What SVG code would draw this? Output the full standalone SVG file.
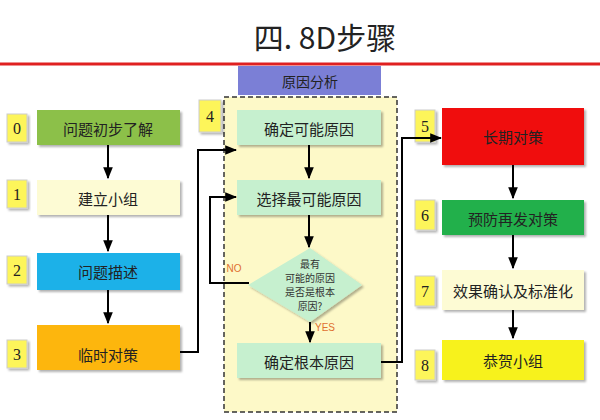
<svg xmlns="http://www.w3.org/2000/svg" width="600" height="420" viewBox="0 0 600 420">
<defs>
<marker id="a" viewBox="0 0 10 10" refX="9" refY="5" markerWidth="6" markerHeight="6" orient="auto"><path d="M0,1 L10,5 L0,9 z" fill="#000"/></marker>
<filter id="s" x="-10%" y="-10%" width="130%" height="140%"><feDropShadow dx="2" dy="2" stdDeviation="1.2" flood-color="#000" flood-opacity="0.3"/></filter>
</defs>
<style>
text{font-family:"Noto Sans CJK SC","Liberation Serif",serif;text-anchor:middle;dominant-baseline:central}
.t{font-size:15px;fill:#222}
.n{font-size:16px;fill:#222;font-family:"Liberation Serif",serif}
.lb{fill:#fdf55a;stroke:#ccc;stroke-width:1;filter:url(#s)}
.bx{filter:url(#s)}
.in{fill:#c6f0cf;filter:url(#s)}
.d{font-size:10px;fill:#333}
.c{fill:none;stroke:#000;stroke-width:2;marker-end:url(#a)}
</style>
<rect width="600" height="420" fill="#fff"/>
<text x="325" y="36" style="font-size:30px;font-family:'Noto Sans CJK SC','Liberation Sans',sans-serif;fill:#222">四. 8D步骤</text>
<line x1="0" y1="64" x2="600" y2="64" stroke="#e02020" stroke-width="3"/>
<g id="cause"><rect x="238" y="66" width="143" height="29" fill="#7b7fd6"/><text class="t" x="310" y="81" style="font-size:14px">原因分析</text></g>
<rect x="224" y="97" width="173" height="315" fill="#fdf9c8" stroke="#333" stroke-width="1.5" stroke-dasharray="5,3"/>
<g id="n0"><rect class="lb" x="7" y="114" width="20" height="28"/><text class="n" x="17" y="128">0</text><rect class="bx" x="37" y="110" width="143" height="35" fill="#8cc04a"/><text class="t" x="108" y="128">问题初步了解</text></g>
<g id="n1"><rect class="lb" x="7" y="180" width="20" height="28"/><text class="n" x="17" y="194">1</text><rect class="bx" x="37" y="180" width="143" height="35" fill="#fdfbd4"/><text class="t" x="108" y="198">建立小组</text></g>
<g id="n2"><rect class="lb" x="7" y="256" width="20" height="28"/><text class="n" x="17" y="270">2</text><rect class="bx" x="37" y="253" width="143" height="37" fill="#1fb1e8"/><text class="t" x="108" y="271">问题描述</text></g>
<g id="n3"><rect class="lb" x="7" y="340" width="20" height="28"/><text class="n" x="17" y="354">3</text><rect class="bx" x="37" y="325" width="143" height="45" fill="#fdb60d"/><text class="t" x="108" y="354">临时对策</text></g>
<g id="n4"><rect class="lb" x="199" y="100" width="22" height="32"/><text class="n" x="210" y="116">4</text></g>
<g id="a1"><rect class="in" x="237" y="110" width="144" height="35"/><text class="t" x="309" y="128">确定可能原因</text></g>
<g id="a2"><rect class="in" x="237" y="180" width="144" height="35"/><text class="t" x="309" y="198">选择最可能原因</text></g>
<g id="a3"><polygon points="310,248 362,285 310,322 248,285" fill="#c6f0cf" filter="url(#s)"/>
<text class="d" x="310" y="263">最有</text><text class="d" x="310" y="277">可能的原因</text><text class="d" x="310" y="291">是否是根本</text><text class="d" x="310" y="305">原因?</text></g>
<g id="a4"><rect class="in" x="237" y="343" width="144" height="35"/><text class="t" x="309" y="361">确定根本原因</text></g>
<g id="n5"><rect class="lb" x="415" y="110" width="20" height="32"/><text class="n" x="425" y="126">5</text><rect class="bx" x="442" y="108" width="142" height="57" fill="#f01010"/><text class="t" x="513" y="136">长期对策</text></g>
<g id="n6"><rect class="lb" x="415" y="200" width="20" height="30"/><text class="n" x="425" y="215">6</text><rect class="bx" x="442" y="200" width="142" height="35" fill="#22b04b"/><text class="t" x="513" y="218">预防再发对策</text></g>
<g id="n7"><rect class="lb" x="415" y="276" width="20" height="30"/><text class="n" x="425" y="291">7</text><rect class="bx" x="442" y="270" width="142" height="40" fill="#fdfbd4"/><text class="t" x="513" y="290">效果确认及标准化</text></g>
<g id="n8"><rect class="lb" x="415" y="350" width="20" height="30"/><text class="n" x="425" y="365">8</text><rect class="bx" x="442" y="340" width="142" height="40" fill="#f7f21e"/><text class="t" x="513" y="360">恭贺小组</text></g>
<g id="connectors">
<path class="c" d="M108,145 V178"/>
<path class="c" d="M108,215 V251"/>
<path class="c" d="M108,290 V323"/>
<path class="c" d="M180,352 H198 V150 H236"/>
<path class="c" d="M309,145 V178"/>
<path class="c" d="M309,215 V247"/>
<path class="c" d="M310,322 V342"/>
<path class="c" d="M249,283 H210 V197 H236"/>
<path class="c" d="M381,362 H402 V138 H441"/>
<path class="c" d="M513,165 V198"/>
<path class="c" d="M513,235 V268"/>
<path class="c" d="M513,310 V338"/>
<text x="234" y="268" style="font-size:10px;fill:#e07030;font-family:'Liberation Sans',sans-serif">NO</text>
<text x="325" y="327" style="font-size:10px;fill:#e07030;font-family:'Liberation Sans',sans-serif">YES</text>
</g>
</svg>
